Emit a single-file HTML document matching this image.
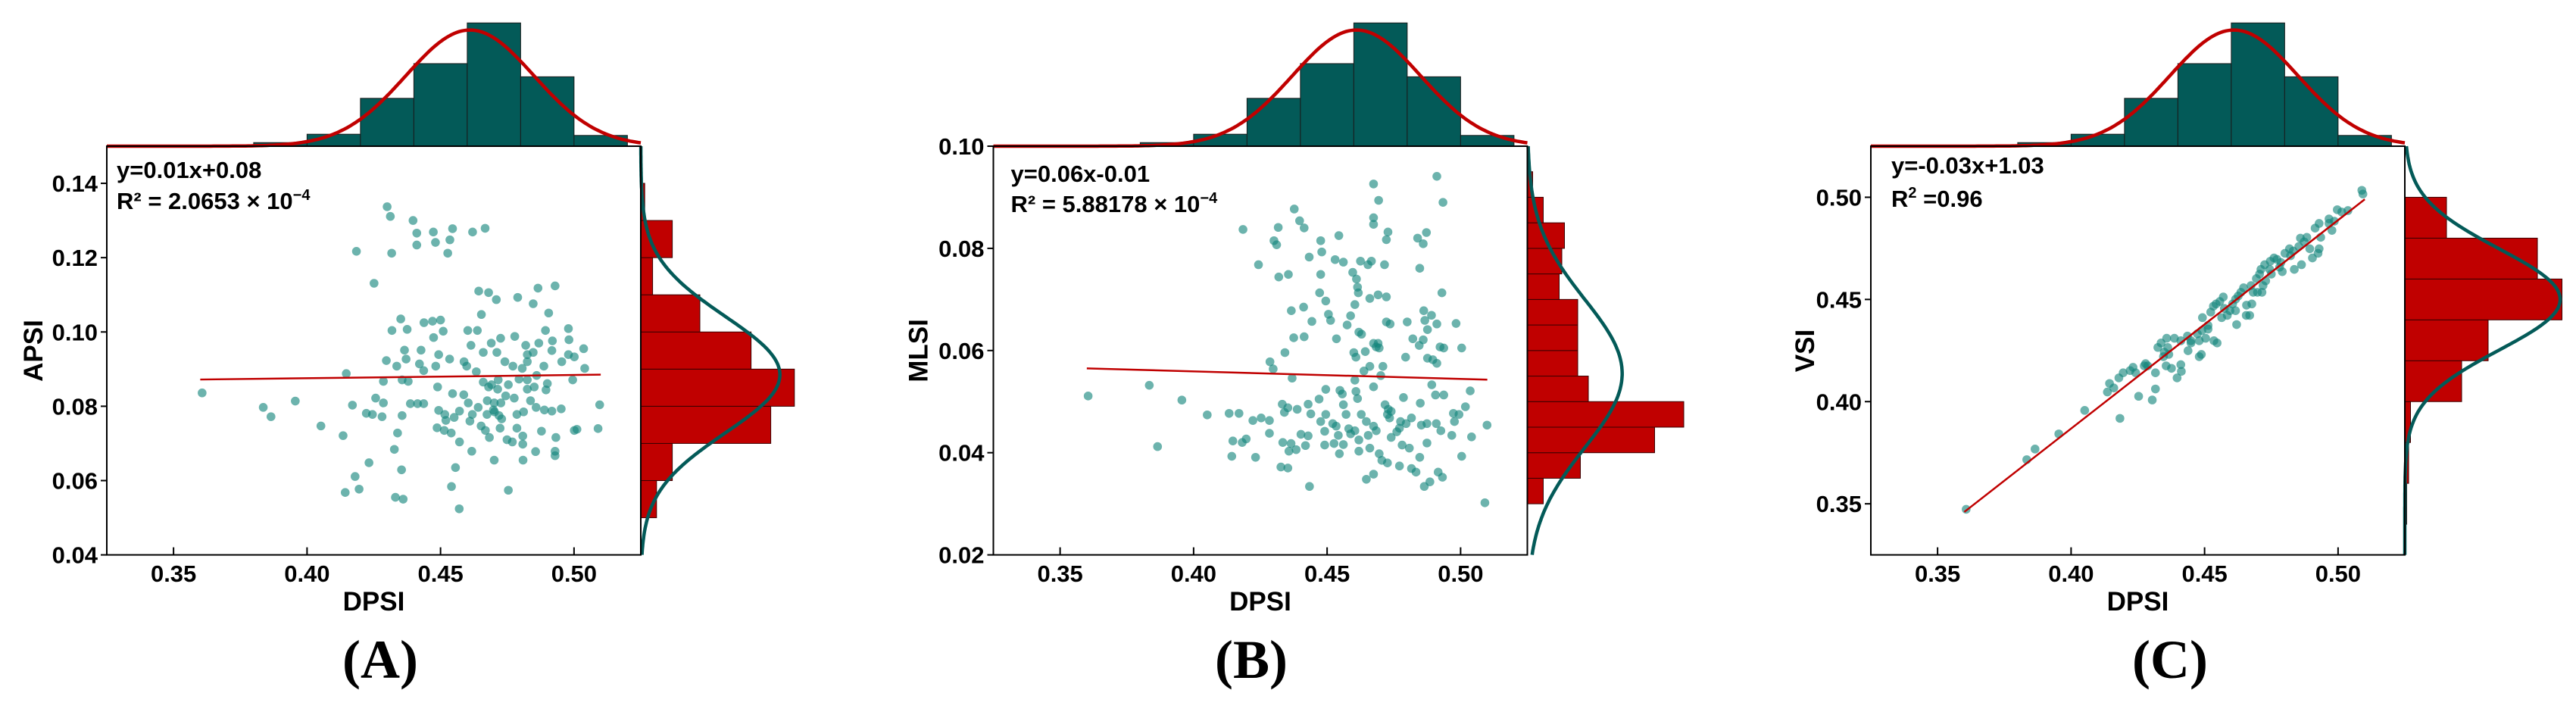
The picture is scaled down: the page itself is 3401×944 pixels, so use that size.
<!DOCTYPE html>
<html><head><meta charset="utf-8">
<style>
html,body{margin:0;padding:0;background:#fff;}
svg{display:block;}
text{font-family:"Liberation Sans",Arial,sans-serif;font-weight:bold;fill:#000;}
.serif{font-family:"Liberation Serif","Times New Roman",serif;}
</style></head>
<body>
<svg id="chart" width="3401" height="944" viewBox="0 0 3401 944" xmlns="http://www.w3.org/2000/svg"></svg>
<script>
// ---------- shared top-marginal (DPSI) histogram ----------
const dpsiBinEdges = [0.38,0.40,0.42,0.44,0.46,0.48,0.50,0.52];
const dpsiCounts = [3,10,40,69,103,58,9];
const dpsiMean = 0.461, dpsiSd = 0.024;
const xTicks = [0.35,0.40,0.45,0.50];
const xTickLabels = ["0.35","0.40","0.45","0.50"];

// ---------- panel A (APSI) ----------
const aYTicks = [0.04,0.06,0.08,0.10,0.12,0.14];
const aYTickLabels = ["0.04","0.06","0.08","0.10","0.12","0.14"];
const aBinEdges = [0.05,0.06,0.07,0.08,0.09,0.10,0.11,0.12,0.13,0.14];
const aCounts = [4,8,33,39,28,15,3,8,1];
const aFit = [0.0872,0.0885];
const aPoints = [[0.3607,0.0836],[0.3836,0.0797],[0.3865,0.0772],[0.3956,0.0814],[0.4052,0.0747],[0.4135,0.0721],[0.4147,0.0888],[0.4170,0.0803],[0.418,0.0611],[0.4143,0.0568],[0.4195,0.0577],[0.4232,0.0648],[0.4185,0.1217],[0.4251,0.1131],[0.4300,0.1337],[0.4312,0.1311],[0.4317,0.1212],[0.4397,0.1300],[0.4411,0.1266],[0.4411,0.1234],[0.4473,0.1269],[0.4481,0.1241],[0.4535,0.1248],[0.4545,0.1278],[0.4527,0.1212],[0.4620,0.1269],[0.4667,0.1279],[0.4331,0.0555],[0.4360,0.0550],[0.4354,0.0629],[0.4327,0.0684],[0.4339,0.0728],[0.4541,0.0584],[0.4570,0.0524],[0.4556,0.0635],[0.4754,0.0574],[0.4701,0.0655],[0.4617,0.0679],[0.4809,0.0655],[0.4856,0.0678],[0.4929,0.0667],[0.4929,0.0679],[0.5001,0.0735],[0.5090,0.0740],[0.5096,0.0804],[0.5040,0.0902],[0.5036,0.0955],[0.4995,0.0871],[0.4979,0.1009],[0.4929,0.1124],[0.4865,0.1118],[0.4789,0.1093],[0.4847,0.1076],[0.4905,0.1051],[0.4643,0.1110],[0.4680,0.1106],[0.4709,0.1087],[0.4653,0.1047],[0.4351,0.1035],[0.4318,0.1004],[0.4375,0.1007],[0.4438,0.1025],[0.4470,0.1029],[0.4500,0.1032],[0.4510,0.1002],[0.4474,0.0985],[0.4365,0.0951],[0.4427,0.0951],[0.4297,0.0923],[0.4336,0.0908],[0.4371,0.0927],[0.4421,0.0914],[0.4482,0.0908],[0.4493,0.0939],[0.4534,0.0927],[0.4356,0.0871],[0.4379,0.0867],[0.4437,0.0896],[0.4489,0.0852],[0.4286,0.0867],[0.4257,0.0822],[0.4286,0.0809],[0.4222,0.0781],[0.4245,0.0778],[0.4281,0.0772],[0.4356,0.0775],[0.4387,0.0807],[0.4414,0.0807],[0.4437,0.0807],[0.4493,0.0789],[0.4516,0.0778],[0.4487,0.0742],[0.4514,0.0735],[0.4540,0.0728],[0.4571,0.0704],[0.4520,0.0762],[0.4551,0.0770],[0.4571,0.0787],[0.4545,0.0834],[0.4587,0.0831],[0.4604,0.0809],[0.4619,0.0778],[0.4641,0.0797],[0.4610,0.0760],[0.4588,0.0920],[0.4598,0.0908],[0.4614,0.0964],[0.4602,0.1004],[0.4638,0.1004],[0.4660,0.0945],[0.4690,0.0970],[0.4725,0.0983],[0.4711,0.0945],[0.4634,0.0893],[0.4660,0.0865],[0.4680,0.0852],[0.4691,0.0858],[0.4716,0.0871],[0.4741,0.0920],[0.4771,0.0908],[0.4806,0.0902],[0.4825,0.0920],[0.4778,0.0988],[0.4819,0.0964],[0.4868,0.0970],[0.4893,0.1004],[0.4919,0.0976],[0.4825,0.0939],[0.4847,0.0945],[0.4887,0.0908],[0.4860,0.0883],[0.4825,0.0871],[0.4794,0.0873],[0.4754,0.0858],[0.4744,0.0828],[0.4714,0.0846],[0.4675,0.0815],[0.4701,0.0809],[0.4726,0.0809],[0.4776,0.0822],[0.4825,0.0846],[0.4851,0.0852],[0.4900,0.0861],[0.4895,0.0844],[0.4837,0.0815],[0.4858,0.0797],[0.4889,0.0790],[0.4917,0.0787],[0.4952,0.0793],[0.4811,0.0785],[0.4786,0.0778],[0.4698,0.0790],[0.4719,0.0775],[0.4729,0.0766],[0.4702,0.0785],[0.4674,0.0778],[0.4652,0.0747],[0.4668,0.0735],[0.4683,0.0716],[0.4723,0.0741],[0.4749,0.0710],[0.4769,0.0704],[0.4786,0.0741],[0.4808,0.0720],[0.4808,0.0698],[0.4878,0.0733],[0.4932,0.0716],[0.5011,0.0738],[0.4954,0.0920],[0.4981,0.0979],[0.4979,0.0939],[0.5001,0.0933],[0.4917,0.0950]];

// ---------- panel B (MLSI) ----------
const bYTicks = [0.02,0.04,0.06,0.08,0.10];
const bYTickLabels = ["0.02","0.04","0.06","0.08","0.10"];
const bBinEdges = [0.030,0.035,0.040,0.045,0.050,0.055,0.060,0.065,0.070,0.075,0.080,0.085,0.090,0.095];
const bCounts = [6,20,48,59,23,19,19,19,12,13,14,6,2];
const bFit = [0.0565,0.0543];
const bPoints = [[0.3605,0.0511],[0.3834,0.0532],[0.3865,0.0412],[0.3956,0.0503],[0.4051,0.0474],[0.4133,0.0477],[0.4170,0.0477],[0.4185,0.0837],[0.4147,0.0423],[0.4143,0.0393],[0.4182,0.0420],[0.4197,0.0427],[0.4232,0.0391],[0.4222,0.0463],[0.4253,0.0468],[0.4284,0.0463],[0.4284,0.0438],[0.4243,0.0768],[0.4301,0.0815],[0.4317,0.0841],[0.4311,0.0807],[0.4319,0.0744],[0.4355,0.0749],[0.4377,0.0877],[0.4397,0.0854],[0.4414,0.0840],[0.4286,0.0578],[0.4298,0.0564],[0.4342,0.0596],[0.4366,0.0678],[0.4412,0.0685],[0.4375,0.0625],[0.4414,0.0627],[0.4369,0.0546],[0.4332,0.0495],[0.4340,0.0479],[0.4353,0.0488],[0.4388,0.0485],[0.4334,0.0420],[0.4365,0.0418],[0.4357,0.0403],[0.4384,0.0406],[0.4327,0.0372],[0.4353,0.0370],[0.4434,0.0334],[0.4402,0.0436],[0.4429,0.0433],[0.4419,0.0414],[0.4429,0.0495],[0.4439,0.0476],[0.4443,0.0657],[0.4472,0.0713],[0.4476,0.0815],[0.4480,0.0793],[0.4433,0.0783],[0.4476,0.0749],[0.4495,0.0697],[0.4505,0.0671],[0.4513,0.0659],[0.4530,0.0778],[0.4544,0.0825],[0.4561,0.0773],[0.4535,0.0623],[0.4470,0.0505],[0.4495,0.0524],[0.4476,0.0461],[0.4495,0.0475],[0.4491,0.0442],[0.4491,0.0415],[0.4521,0.0457],[0.4534,0.0452],[0.4542,0.0434],[0.4546,0.0398],[0.4526,0.0418],[0.4561,0.0416],[0.4548,0.0522],[0.4557,0.0515],[0.4561,0.0494],[0.4571,0.0475],[0.4581,0.0447],[0.4588,0.0437],[0.4596,0.0753],[0.4610,0.0740],[0.4614,0.0724],[0.4617,0.0713],[0.4619,0.0636],[0.4629,0.0632],[0.4575,0.0650],[0.4588,0.0668],[0.4604,0.0690],[0.4600,0.0596],[0.4608,0.0587],[0.4604,0.0542],[0.4608,0.0520],[0.4614,0.0506],[0.4628,0.0475],[0.4604,0.0443],[0.4619,0.0425],[0.4619,0.0403],[0.4638,0.0560],[0.4660,0.0569],[0.4674,0.0614],[0.4684,0.0607],[0.4695,0.0605],[0.4701,0.0551],[0.4709,0.0569],[0.4674,0.0529],[0.4647,0.0461],[0.4674,0.0452],[0.4684,0.0443],[0.4654,0.0434],[0.4660,0.0409],[0.4695,0.0398],[0.4705,0.0385],[0.4674,0.0358],[0.4647,0.0348],[0.4717,0.0494],[0.4729,0.0485],[0.4740,0.0481],[0.4726,0.0475],[0.4734,0.0468],[0.4740,0.0430],[0.4771,0.0448],[0.4775,0.0461],[0.4786,0.0508],[0.4796,0.0457],[0.4761,0.0441],[0.4726,0.0380],[0.4771,0.0374],[0.4781,0.0415],[0.4808,0.0409],[0.4816,0.0369],[0.4833,0.0362],[0.4847,0.0391],[0.4864,0.0334],[0.4885,0.0343],[0.4916,0.0362],[0.4932,0.0352],[0.4874,0.0419],[0.4816,0.0468],[0.4853,0.0454],[0.4874,0.0457],[0.4909,0.0457],[0.4926,0.0443],[0.4967,0.0434],[0.4977,0.0461],[0.4994,0.0475],[0.4973,0.0477],[0.5018,0.0490],[0.5004,0.0393],[0.5041,0.0431],[0.5099,0.0454],[0.5091,0.0302],[0.5036,0.0521],[0.4937,0.0513],[0.4906,0.0513],[0.4849,0.0497],[0.4892,0.0533],[0.4896,0.0582],[0.4911,0.0575],[0.4937,0.0605],[0.4923,0.0607],[0.4876,0.0585],[0.4845,0.0610],[0.4860,0.0621],[0.4821,0.0623],[0.4876,0.0641],[0.4794,0.0587],[0.4800,0.0656],[0.4866,0.0659],[0.4862,0.0678],[0.4891,0.0669],[0.4911,0.0652],[0.4983,0.0653],[0.5004,0.0605],[0.4930,0.0713],[0.4847,0.0761],[0.4839,0.0820],[0.4860,0.0809],[0.4872,0.0831],[0.4911,0.0941],[0.4934,0.0890],[0.4674,0.0926],[0.4693,0.0894],[0.4674,0.0860],[0.4674,0.0847],[0.4728,0.0832],[0.4722,0.0817],[0.4715,0.0768],[0.4666,0.0775],[0.4653,0.0768],[0.4625,0.0775],[0.4691,0.0709],[0.4722,0.0705],[0.4660,0.0702],[0.4722,0.0656],[0.4736,0.0652],[0.4643,0.0598],[0.4691,0.0614]];

// ---------- panel C (VSI) ----------
const cYTicks = [0.35,0.40,0.45,0.50];
const cYTickLabels = ["0.35","0.40","0.45","0.50"];
const cBinEdges = [0.34,0.36,0.38,0.40,0.42,0.44,0.46,0.48,0.50];
const cCounts = [1,2,3,30,44,83,70,22];
const cFit = [0.346,0.499];
const cPoints = [[0.3607,0.3473],[0.3834,0.3716],[0.3865,0.3768],[0.3954,0.3842],[0.4051,0.3957],[0.4183,0.3918],[0.4136,0.4047],[0.4144,0.4089],[0.4160,0.4067],[0.4179,0.4116],[0.4195,0.4141],[0.4232,0.4168],[0.4253,0.4026],[0.4221,0.4152],[0.4242,0.4141],[0.4279,0.4186],[0.4287,0.4175],[0.4316,0.4141],[0.4304,0.4008],[0.4316,0.4062],[0.4325,0.4265],[0.4337,0.4287],[0.4349,0.4242],[0.4358,0.4310],[0.4366,0.4231],[0.4356,0.4175],[0.4376,0.4163],[0.4397,0.4116],[0.4411,0.4181],[0.4413,0.4148],[0.4387,0.4310],[0.4411,0.4298],[0.4436,0.4321],[0.4449,0.4298],[0.4438,0.4249],[0.4473,0.4332],[0.4490,0.4348],[0.4480,0.4298],[0.4504,0.4310],[0.4488,0.4231],[0.4480,0.4220],[0.4535,0.4298],[0.4547,0.4287],[0.4492,0.4411],[0.4513,0.4373],[0.4523,0.4438],[0.4533,0.4467],[0.4543,0.4478],[0.4557,0.4490],[0.4570,0.4512],[0.4574,0.4456],[0.4564,0.4411],[0.4595,0.4445],[0.4605,0.4478],[0.4616,0.4445],[0.4620,0.4377],[0.4626,0.4517],[0.4636,0.4535],[0.4646,0.4557],[0.4657,0.4472],[0.4669,0.4422],[0.4677,0.4478],[0.4682,0.4535],[0.4674,0.4568],[0.4694,0.4602],[0.4706,0.4624],[0.4715,0.4535],[0.4719,0.4568],[0.4729,0.4591],[0.4711,0.4647],[0.4725,0.4670],[0.4746,0.4687],[0.4760,0.4703],[0.4771,0.4696],[0.4781,0.4658],[0.4791,0.4636],[0.4801,0.4726],[0.4818,0.4748],[0.4832,0.4737],[0.4822,0.4714],[0.4836,0.4647],[0.4853,0.4759],[0.4859,0.4800],[0.4873,0.4782],[0.4863,0.4670],[0.4883,0.4804],[0.4894,0.4748],[0.4904,0.4703],[0.4925,0.4726],[0.4929,0.4748],[0.4914,0.4849],[0.4929,0.4872],[0.4935,0.4804],[0.4977,0.4838],[0.4966,0.4872],[0.4997,0.4939],[0.5014,0.4928],[0.5037,0.4935],[0.5089,0.5034],[0.5093,0.5016],[0.4966,0.4894],[0.4986,0.4883],[0.4786,0.4681],[0.4744,0.4647],[0.4656,0.4422],[0.4585,0.4422],[0.4513,0.4355],[0.4449,0.4287],[0.4362,0.4265],[0.4346,0.4220],[0.4274,0.4175],[0.4616,0.4501],[0.4698,0.4535],[0.4750,0.4624]];

const NS = "http://www.w3.org/2000/svg";
const svg = document.getElementById("chart");
function mk(tag, attrs, parent){
  const e = document.createElementNS(NS, tag);
  for (const k in attrs) e.setAttribute(k, attrs[k]);
  (parent||svg).appendChild(e);
  return e;
}
const TEAL_DARK = "#035a58", RED = "#c00000";
const BOX_W = 705, BOX_TOP = 193, BOX_BOT = 732.6;
const X_DOM = [0.325, 0.525];

function drawPanel(p){
  const g = mk("g", {});
  
  
  const L = p.left, R = p.left + BOX_W;
  const xs = v => L + (v - X_DOM[0]) / (X_DOM[1] - X_DOM[0]) * BOX_W;
  const ys = v => BOX_BOT - (v - p.yDom[0]) / (p.yDom[1] - p.yDom[0]) * (BOX_BOT - BOX_TOP);

  const topPx = 1.58;
  for (let i = 0; i < dpsiCounts.length; i++){
    const x0 = xs(dpsiBinEdges[i]), x1 = xs(dpsiBinEdges[i+1]);
    const h = dpsiCounts[i] * topPx;
    const r = mk("rect", {x:x0, y:BOX_TOP - h, width:x1-x0, height:h, fill:TEAL_DARK, stroke:"#1a1a1a", "stroke-width":1}, g);
    
    
  }
  const nTop = dpsiCounts.reduce((a,b)=>a+b,0);
  let d = "";
  for (let i = 0; i <= 200; i++){
    const v = X_DOM[0] + (X_DOM[1]-X_DOM[0]) * i / 200;
    const c = nTop * 0.02 / (dpsiSd * Math.sqrt(2*Math.PI)) * Math.exp(-((v-dpsiMean)**2)/(2*dpsiSd*dpsiSd));
    d += (i ? "L" : "M") + xs(v).toFixed(1) + " " + (BOX_TOP - c*topPx).toFixed(1);
  }
  const tc = mk("path", {d:d, fill:"none", stroke:RED, "stroke-width":4.5}, g);
  
  

  for (let i = 0; i < p.counts.length; i++){
    const y0 = ys(p.binEdges[i+1]), y1 = ys(p.binEdges[i]);
    const w = p.counts[i] * p.rightPx;
    const r = mk("rect", {x:R, y:y0, width:w, height:y1-y0, fill:RED, stroke:"#3a0000", "stroke-width":1}, g);
    
    
  }
  const nR = p.counts.reduce((a,b)=>a+b,0);
  const bw = p.binEdges[1] - p.binEdges[0];
  d = "";
  for (let i = 0; i <= 200; i++){
    const v = p.yDom[0] + (p.yDom[1]-p.yDom[0]) * i / 200;
    const c = nR * bw / (p.sd * Math.sqrt(2*Math.PI)) * Math.exp(-((v-p.mean)**2)/(2*p.sd*p.sd));
    d += (i ? "L" : "M") + (R + c*p.rightPx).toFixed(1) + " " + ys(v).toFixed(1);
  }
  const rc = mk("path", {d:d, fill:"none", stroke:TEAL_DARK, "stroke-width":4.5}, g);
  
  

  const box = mk("rect", {x:L, y:BOX_TOP, width:BOX_W, height:BOX_BOT-BOX_TOP, fill:"none", stroke:"#000", "stroke-width":2}, g);
  
  

  for (const pt of p.points){
    const c = mk("circle", {cx:xs(pt[0]), cy:ys(pt[1]), r:5.8, fill:"#12857a", "fill-opacity":0.62}, g);
    
    
  }
  const fl = mk("line", {x1:xs(0.36), y1:ys(p.fit[0]), x2:xs(0.51), y2:ys(p.fit[1]), stroke:RED, "stroke-width":2.5}, g);
  
  

  xTicks.forEach((v,i)=>{
    const t = mk("line", {x1:xs(v), x2:xs(v), y1:BOX_BOT, y2:BOX_BOT-10, stroke:"#000", "stroke-width":2}, g);
    
    
    const tx = mk("text", {x:xs(v), y:768, "text-anchor":"middle", "font-size":31}, g);
    tx.textContent = xTickLabels[i];
    
    
  });
  p.yTicks.forEach((v,i)=>{
    const t = mk("line", {x1:L, x2:L-8, y1:ys(v), y2:ys(v), stroke:"#000", "stroke-width":2}, g);
    
    
    const tx = mk("text", {x:L-12, y:ys(v)+11, "text-anchor":"end", "font-size":31}, g);
    tx.textContent = p.yTickLabels[i];
    
    
  });
  const xt = mk("text", {x:L+BOX_W/2, y:806, "text-anchor":"middle", "font-size":35}, g);
  xt.textContent = "DPSI";
  
  
  const yt = mk("text", {x:0, y:0, "text-anchor":"middle", "font-size":35, transform:"translate("+(p.yLabelX+12)+",463) rotate(-90)"}, g);
  yt.textContent = p.yLabel;
  
  
  const e1 = mk("text", {x:L+p.eqDx, y:p.eqY[0], "font-size":31}, g);
  e1.textContent = p.eq;
  
  
  const e2 = mk("text", {x:L+p.eqDx, y:p.eqY[1], "font-size":31}, g);
  e2.innerHTML = p.r2;
  
  
  const pl = mk("text", {x:p.letterX, y:895, "text-anchor":"middle", "font-size":72, class:"serif"}, g);
  pl.textContent = p.letter;
  
  
}

drawPanel({name:"panel-a-apsi", left:141, yDom:[0.04,0.15], yTicks:aYTicks, yTickLabels:aYTickLabels,
  binEdges:aBinEdges, counts:aCounts, rightPx:5.2, mean:0.0885, sd:0.0157, fit:aFit, points:aPoints,
  yLabel:"APSI", yLabelX:44, eqDx:13, eqY:[235,276], eq:"y=0.01x+0.08",
  r2:'R² = 2.0653 × 10<tspan dy="-12" font-size="20">−4</tspan>', letter:"(A)", letterX:502});
drawPanel({name:"panel-b-mlsi", left:1311.5, yDom:[0.02,0.10], yTicks:bYTicks, yTickLabels:bYTickLabels,
  binEdges:bBinEdges, counts:bCounts, rightPx:3.5, mean:0.0555, sd:0.0145, fit:bFit, points:bPoints,
  yLabel:"MLSI", yLabelX:1212.5, eqDx:23, eqY:[240,280], eq:"y=0.06x-0.01",
  r2:'R² = 5.88178 × 10<tspan dy="-12" font-size="20">−4</tspan>', letter:"(B)", letterX:1652});
drawPanel({name:"panel-c-vsi", left:2470, yDom:[0.325,0.525], yTicks:cYTicks, yTickLabels:cYTickLabels,
  binEdges:cBinEdges, counts:cCounts, rightPx:2.5, mean:0.45, sd:0.0248, fit:cFit, points:cPoints,
  yLabel:"VSI", yLabelX:2383, eqDx:27, eqY:[229,273], eq:"y=-0.03x+1.03",
  r2:'R<tspan dy="-12" font-size="20">2</tspan><tspan dy="12"> =0.96</tspan>', letter:"(C)", letterX:2865});
</script>
</body></html>
